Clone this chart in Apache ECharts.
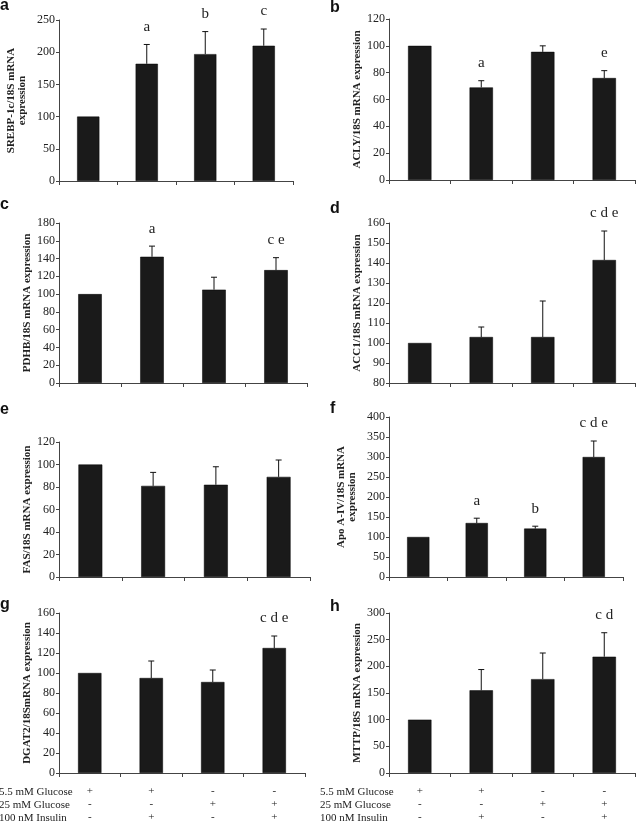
<!DOCTYPE html>
<html><head><meta charset="utf-8">
<script src="https://cdn.jsdelivr.net/npm/echarts@6/dist/echarts.min.js"></script>
<style>html,body{margin:0;padding:0;background:#fff}#c{width:636px;height:824px}</style>
</head><body><div id="c"></div>
<script>
// ---- data ----
const rowLabels = ['5.5 mM Glucose', '25 mM Glucose', '100 nM Insulin'];
const glucose55 = ['+', '+', '-', '-'];
const glucose25 = ['-', '-', '+', '+'];
const insulin100 = ['-', '+', '-', '+'];

const panelLetters = ['a', 'b', 'c', 'd', 'e', 'f', 'g', 'h'];
const yTitles = [
  'SREBP-1c/18S mRNA\nexpression', 'ACLY/18S mRNA expression',
  'PDHB/18S mRNA expression', 'ACC1/18S mRNA expression',
  'FAS/18S mRNA expression', 'Apo A-IV/18S mRNA\nexpression',
  'DGAT2/18SmRNA expression', 'MTTP/18S mRNA expression'
];
const yMin = [0, 0, 0, 80, 0, 0, 0, 0];
const yMax = [250, 120, 180, 160, 120, 400, 160, 300];
const yStep = [50, 20, 20, 10, 20, 50, 20, 50];

const meanSREBP = [100, 182, 197, 210];
const errSREBP = [null, 212, 232, 236];
const sigSREBP = ['', 'a', 'b', 'c'];

const meanACLY = [100, 69, 95.5, 76];
const errACLY = [null, 74, 100, 81.5];
const sigACLY = ['', 'a', '', 'e'];

const meanPDHB = [100, 142, 105, 127];
const errPDHB = [null, 154, 119, 141];
const sigPDHB = ['', 'a', '', 'c e'];

const meanACC1 = [100, 103, 103, 141.5];
const errACC1 = [null, 108, 121, 156];
const sigACC1 = ['', '', '', 'c d e'];

const meanFAS = [100, 81, 82, 89];
const errFAS = [null, 93, 98, 104];
const sigFAS = ['', '', '', ''];

const meanAPOA4 = [100, 135, 121, 300];
const errAPOA4 = [null, 147, 127, 340];
const sigAPOA4 = ['', 'a', 'b', 'c d e'];

const meanDGAT2 = [100, 95, 91, 125];
const errDGAT2 = [null, 112, 103, 137];
const sigDGAT2 = ['', '', '', 'c d e'];

const meanMTTP = [100, 155, 176, 218];
const errMTTP = [null, 194, 225, 263];
const sigMTTP = ['', '', '', 'c d'];

const means = [meanSREBP, meanACLY, meanPDHB, meanACC1, meanFAS, meanAPOA4, meanDGAT2, meanMTTP];
const errs = [errSREBP, errACLY, errPDHB, errACC1, errFAS, errAPOA4, errDGAT2, errMTTP];
const sigs = [sigSREBP, sigACLY, sigPDHB, sigACC1, sigFAS, sigAPOA4, sigDGAT2, sigMTTP];

// ---- layout ----
const grids = [
  {left: 59, top: 20, width: 234, height: 161},
  {left: 389, top: 19, width: 246, height: 161},
  {left: 59, top: 223, width: 248, height: 160},
  {left: 389, top: 223, width: 246, height: 160},
  {left: 59, top: 442, width: 251, height: 135},
  {left: 389, top: 417, width: 234, height: 160},
  {left: 59, top: 613, width: 246, height: 160},
  {left: 389, top: 613, width: 246, height: 160}
];
const nameGaps = [31, 22, 22, 22, 22, 31, 22, 22];
const nameMove = [true, true, true, true, true, false, true, true];
const letterPos = [[0, 11], [330, 13], [0, 210], [330, 214], [0, 415], [330, 414], [0, 610], [330, 612]];

const serif = '"Liberation Serif", "Times New Roman", serif';
const catLabels = glucose55.map((v, i) => v + '\n' + glucose25[i] + '\n' + insulin100[i]);

const option = {
  animation: false,
  backgroundColor: '#fff',
  grid: grids.map(g => Object.assign({containLabel: false, outerBoundsMode: 'none'}, g)),
  xAxis: grids.map((g, p) => ({
    type: 'category', gridIndex: p, data: catLabels,
    axisLine: {lineStyle: {color: '#444', width: 1}},
    axisTick: {show: true, length: 4, lineStyle: {color: '#444'}},
    axisLabel: {show: p >= 6, interval: 0, margin: 12, lineHeight: 13,
      fontFamily: serif, fontSize: 11, color: '#222'},
    splitLine: {show: false}
  })),
  yAxis: grids.map((g, p) => ({
    type: 'value', gridIndex: p, min: yMin[p], max: yMax[p], interval: yStep[p],
    startValue: yMin[p],
    name: yTitles[p], nameLocation: 'middle', nameGap: nameGaps[p], nameMoveOverlap: nameMove[p],
    nameTextStyle: {fontFamily: serif, fontWeight: 'bold', fontSize: 11, color: '#222', lineHeight: 11},
    axisLine: {show: true, lineStyle: {color: '#444', width: 1}},
    axisTick: {show: true, length: 3, lineStyle: {color: '#444'}},
    axisLabel: {margin: 4, fontFamily: serif, fontSize: 12, color: '#222'},
    splitLine: {show: false}
  })),
  series: [],
  graphic: []
};

grids.forEach((g, p) => {
  option.series.push({
    type: 'bar', xAxisIndex: p, yAxisIndex: p, data: means[p],
    barWidth: '38%', clip: true,
    itemStyle: {color: '#1a1a1a', borderColor: '#000', borderWidth: 0.5}
  });
  option.series.push({
    type: 'custom', xAxisIndex: p, yAxisIndex: p, z: 5, clip: false,
    data: means[p].map((m, i) => [i, m, errs[p][i] == null ? m : errs[p][i]]),
    renderItem: (params, api) => {
      const i = api.value(0), m = api.value(1), e = api.value(2);
      const pm = api.coord([i, m]);
      const pe = api.coord([i, e]);
      const ch = [];
      if (e !== m) {
        ch.push({type: 'line', shape: {x1: pe[0], y1: pm[1], x2: pe[0], y2: pe[1]}, style: {stroke: '#111', lineWidth: 1}});
        ch.push({type: 'line', shape: {x1: pe[0] - 3, y1: pe[1], x2: pe[0] + 3, y2: pe[1]}, style: {stroke: '#111', lineWidth: 1}});
      }
      const s = sigs[p][params.dataIndex];
      if (s) ch.push({type: 'text', x: pe[0], y: pe[1] - 10,
        style: {text: s, align: 'center', verticalAlign: 'bottom', font: '15px ' + serif, fill: '#222'}});
      return {type: 'group', children: ch};
    }
  });
  option.graphic.push({type: 'text', left: letterPos[p][0], top: letterPos[p][1] - 13,
    style: {text: panelLetters[p], font: 'bold 16px "Liberation Sans", Arial, sans-serif', fill: '#111'}});
});

// row labels of the treatment table
[0, 1].forEach(k => {
  rowLabels.forEach((t, r) => {
    option.graphic.push({type: 'text', x: k === 0 ? -1 : 320, y: 792 + r * 13,
      style: {text: t, font: '11px ' + serif, fill: '#222', verticalAlign: 'middle', align: 'left'}});
  });
});

const chart = echarts.init(document.getElementById('c'), null, {renderer: 'canvas'});
chart.setOption(option);
</script></body></html>
